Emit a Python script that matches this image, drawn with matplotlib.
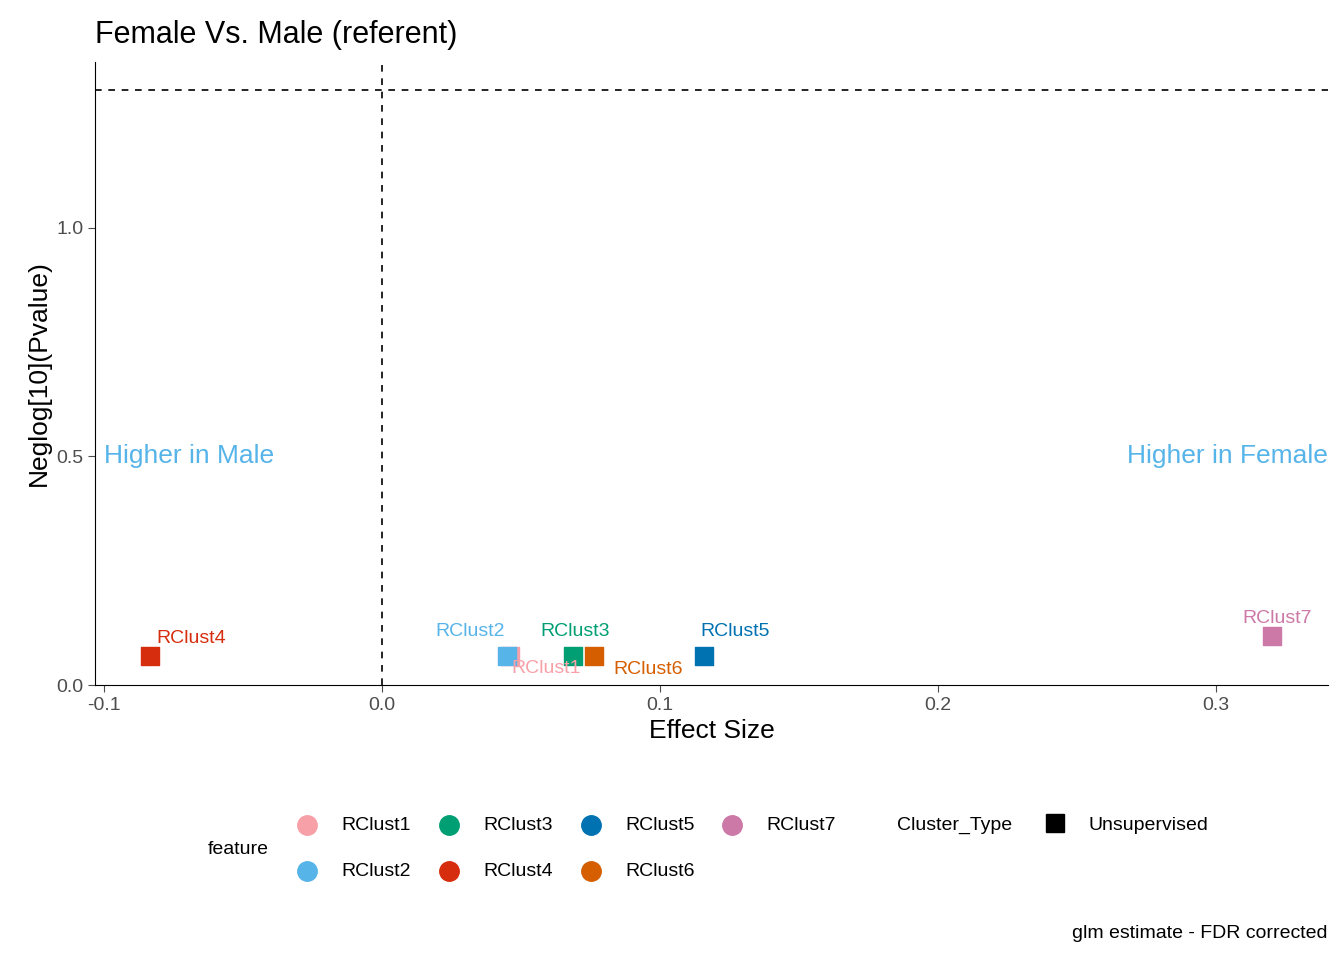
import matplotlib
matplotlib.use("Agg")
import matplotlib.pyplot as plt
from matplotlib.lines import Line2D

plt.rcParams["font.family"] = ["Liberation Sans", "DejaVu Sans"]

features = ["RClust1", "RClust2", "RClust3", "RClust4", "RClust5", "RClust6", "RClust7"]
effect = [0.046, 0.045, 0.0687, -0.0835, 0.116, 0.0763, 0.320]
neglogp = [0.063, 0.063, 0.063, 0.063, 0.063, 0.063, 0.107]
colors = ["#F8A0A8", "#56B4E9", "#009E73", "#D62D0E", "#0072B2", "#D55E00", "#CC79A7"]
# label offsets in pixels (ggrepel-like placement)
label_off = [(36, -12), (-37, 25), (2, 25), (41, 18), (31, 25), (54, -13), (6, 18)]

fig = plt.figure(figsize=(13.44, 9.6), dpi=100)
ax = fig.add_axes([95 / 1344, 1 - 685 / 960, (1328 - 95) / 1344, (685 - 62) / 960])

for f, x, y, c, (dx, dy) in zip(features, effect, neglogp, colors, label_off):
    ax.scatter(x, y, marker="s", s=180, color=c, zorder=3)
    ax.annotate(f, (x, y), xytext=(dx * 0.72, dy * 0.72), textcoords="offset points",
                ha="center", va="center", color=c, fontsize=14, zorder=4)

ax.axhline(1.30103, ls=(0, (4, 4)), color="black", lw=1.2)
ax.axvline(0, ls=(0, (4, 4)), color="black", lw=1.2)
ax.text(-0.1, 0.5, "Higher in Male", color="#56B4E9", fontsize=19, ha="left", va="center")
ax.text(0.3403, 0.5, "Higher in Female", color="#56B4E9", fontsize=19, ha="right", va="center")

ax.set_xlim(-0.1032, 0.3403)
ax.set_ylim(0, 1.363)
ax.set_xticks([-0.1, 0.0, 0.1, 0.2, 0.3])
ax.set_xticklabels(["-0.1", "0.0", "0.1", "0.2", "0.3"])
ax.set_yticks([0.0, 0.5, 1.0])
ax.set_yticklabels(["0.0", "0.5", "1.0"])
ax.tick_params(labelsize=14, colors="#4d4d4d", length=5)
for s in ["top", "right"]:
    ax.spines[s].set_visible(False)
ax.set_xlabel("Effect Size", fontsize=19)
ax.set_ylabel("Neglog[10](Pvalue)", fontsize=19)
ax.set_title("Female Vs. Male (referent)", fontsize=22, loc="left", x=0, pad=14)

# legend
fig.text(208 / 1344, 1 - 849 / 960, "feature", fontsize=14, va="center")
leg_x = [307, 449, 591, 732]
for i, (f, c) in enumerate(zip(features, colors)):
    col, row = i // 2, i % 2
    px, py = leg_x[col], 825 + row * 46
    fig.add_artist(Line2D([px / 1344], [1 - py / 960], marker="o", ms=14, color=c,
                          transform=fig.transFigure, ls=""))
    fig.text((px + 34) / 1344, 1 - py / 960, f, fontsize=14, va="center")
fig.text(897 / 1344, 1 - 825 / 960, "Cluster_Type", fontsize=14, va="center")
fig.add_artist(Line2D([1055 / 1344], [1 - 823 / 960], marker="s", ms=13, color="black",
                      transform=fig.transFigure, ls=""))
fig.text(1089 / 1344, 1 - 825 / 960, "Unsupervised", fontsize=14, va="center")
fig.text(1328 / 1344, 1 - 933 / 960, "glm estimate - FDR corrected", fontsize=14,
         ha="right", va="center")

fig.savefig("out.png", dpi=100)
